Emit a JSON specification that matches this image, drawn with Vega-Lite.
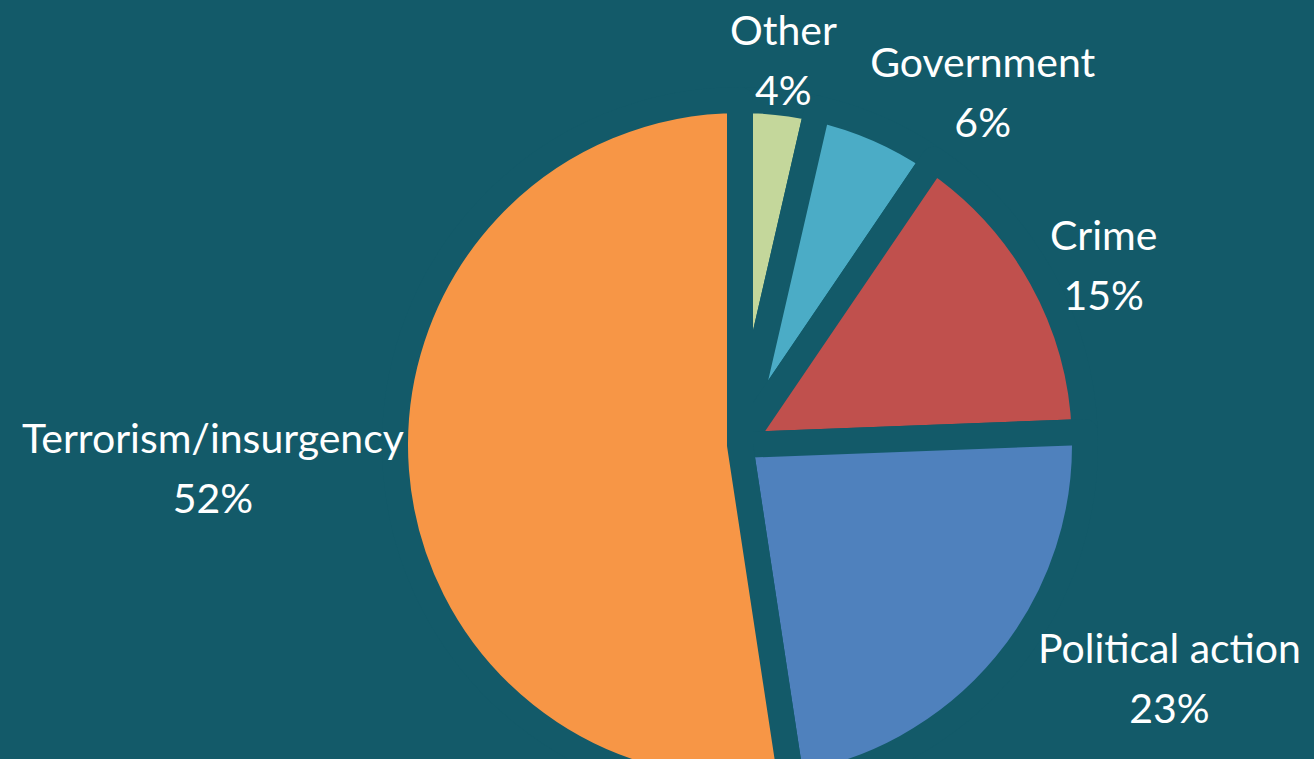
{
  "$schema": "https://vega.github.io/schema/vega-lite/v6.json",
  "autosize": {"type": "none"},
  "width": 1148,
  "height": 628,
  "padding": {"left": 166, "top": 131, "right": 0, "bottom": 0},
  "background": "#135A69",
  "config": {"view": {"stroke": null}},
  "data": {
    "values": [
      {"category": "Other", "value": 0.036},
      {"category": "Government", "value": 0.059},
      {"category": "Crime", "value": 0.149},
      {"category": "Political action", "value": 0.232},
      {"category": "Terrorism/insurgency", "value": 0.524}
    ]
  },
  "transform": [{"window": [{"op": "row_number", "as": "idx"}]}],
  "encoding": {
    "theta": {"field": "value", "type": "quantitative", "stack": true},
    "order": {"field": "idx", "type": "quantitative"},
    "color": {
      "field": "category",
      "type": "nominal",
      "scale": {
        "domain": ["Other", "Government", "Crime", "Political action", "Terrorism/insurgency"],
        "range": ["#C4D79B", "#4BACC6", "#C0504D", "#4F81BD", "#F79646"]
      },
      "legend": null
    }
  },
  "layer": [
    {
      "mark": {"type": "arc", "outerRadius": 345, "stroke": "#135A69", "strokeWidth": 26, "strokeJoin": "round"}
    },
    {
      "mark": {
        "type": "text",
        "radius": {"expr": "345 + 40*abs(cos(PI*(datum.value_start+datum.value_end)))"},
        "dx": {"expr": "sin(PI*(datum.value_start+datum.value_end)) >= 0.3 ? 9*length(datum.category) : (sin(PI*(datum.value_start+datum.value_end)) <= -0.3 ? -9*length(datum.category) : 0)"},
        "align": "center",
        "baseline": "middle",
        "dy": -30,
        "font": "Lato",
        "fontSize": 41
      },
      "encoding": {
        "text": {"field": "category", "type": "nominal"},
        "color": {"value": "#FFFFFF"}
      }
    },
    {
      "mark": {
        "type": "text",
        "radius": {"expr": "345 + 40*abs(cos(PI*(datum.value_start+datum.value_end)))"},
        "dx": {"expr": "sin(PI*(datum.value_start+datum.value_end)) >= 0.3 ? 9*length(datum.category) : (sin(PI*(datum.value_start+datum.value_end)) <= -0.3 ? -9*length(datum.category) : 0)"},
        "align": "center",
        "baseline": "middle",
        "dy": 30,
        "font": "Lato",
        "fontSize": 41
      },
      "encoding": {
        "text": {"field": "value", "type": "quantitative", "format": ".0%"},
        "color": {"value": "#FFFFFF"}
      }
    }
  ]
}
